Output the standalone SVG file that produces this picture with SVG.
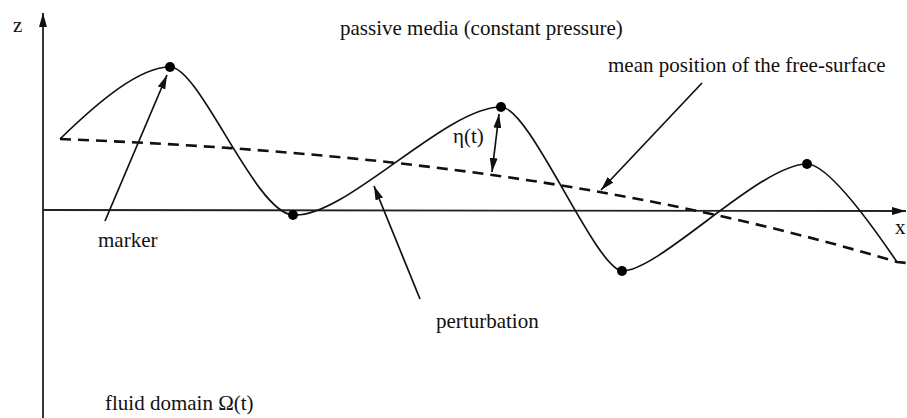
<svg xmlns="http://www.w3.org/2000/svg" width="907" height="418" viewBox="0 0 907 418">
<defs>
<style>
.t{font-family:"Liberation Serif","Times New Roman",serif;font-size:21px;fill:#111}
.ln{stroke:#111;stroke-width:1.7;fill:none}
.ax{stroke:#222;stroke-width:1.8;fill:none}
.dash{stroke:#111;stroke-width:2.6;fill:none;stroke-dasharray:11,7}
.dot{fill:#000}
</style>
<marker id="ah" viewBox="0 0 14 8" refX="14" refY="4" markerWidth="14" markerHeight="8" markerUnits="userSpaceOnUse" orient="auto-start-reverse">
<path d="M0,0 L14,4 L0,8 Z" fill="#111"/>
</marker>
</defs>
<rect width="907" height="418" fill="#fff"/>
<g id="axes">
<line class="ax" x1="43" y1="418" x2="43" y2="13" marker-end="url(#ah)"/>
<line class="ax" x1="43" y1="210" x2="906" y2="211" marker-end="url(#ah)"/>
<text class="t" x="13" y="32">z</text>
<text class="t" x="895" y="234">x</text>
</g>
<g id="mean-surface">
<path class="dash" d="M60,139 C340,150 617,178 897,262 L907,263"/>
</g>
<g id="free-surface">
<path class="ln" d="M60,139 C100,100 140,67 170,67 C200,67 255,213 293,215 C345,219 445,107 501,107 C530,107 595,268 622,271 C660,271 760,164 807,164 C830,164 880,237 897,262"/>
<circle class="dot" cx="170" cy="67" r="5"/>
<circle class="dot" cx="293" cy="215" r="5"/>
<circle class="dot" cx="501" cy="107" r="5"/>
<circle class="dot" cx="622" cy="271" r="5"/>
<circle class="dot" cx="807" cy="164" r="5"/>
</g>
<g id="connectors">
<line class="ln" x1="105" y1="221" x2="167" y2="75" marker-end="url(#ah)"/>
<line class="ln" x1="420" y1="299" x2="374" y2="186" marker-end="url(#ah)"/>
<line class="ln" x1="702" y1="83" x2="601" y2="190" marker-end="url(#ah)"/>
<line class="ln" x1="492" y1="172" x2="499" y2="114" marker-start="url(#ah)" marker-end="url(#ah)"/>
</g>
<g id="labels">
<text class="t" x="340" y="35">passive media (constant pressure)</text>
<text class="t" x="608" y="72">mean position of the free-surface</text>
<text class="t" x="98" y="247">marker</text>
<text class="t" x="436" y="328">perturbation</text>
<text class="t" x="453" y="143">η(t)</text>
<text class="t" x="105" y="410">fluid domain  Ω(t)</text>
</g>
</svg>
